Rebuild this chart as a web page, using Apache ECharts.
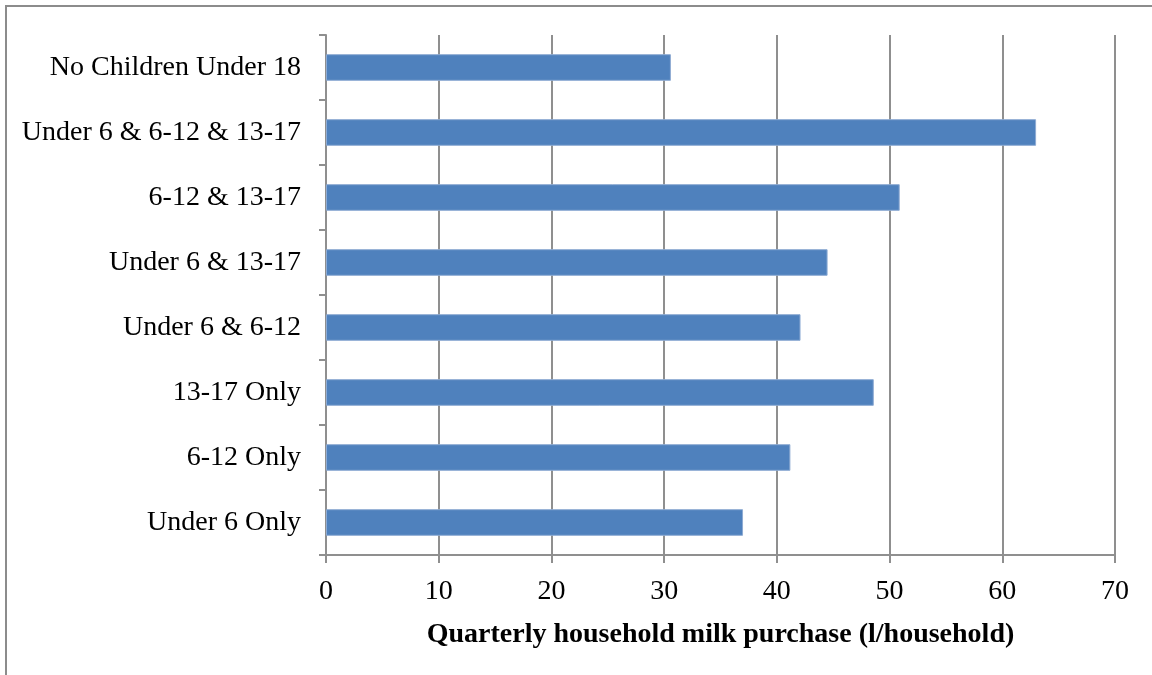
<!DOCTYPE html>
<html>
<head>
<meta charset="utf-8">
<script src="https://cdn.jsdelivr.net/npm/echarts@6/dist/echarts.min.js"></script>
<style>
  html, body { margin: 0; padding: 0; background: #fff; }
  #chart { width: 1152px; height: 675px; }
</style>
</head>
<body>
<div id="chart"></div>
<script>
// Household groups, listed top to bottom
const categories = [
  'No Children Under 18',
  'Under 6 & 6-12 & 13-17',
  '6-12 & 13-17',
  'Under 6 & 13-17',
  'Under 6 & 6-12',
  '13-17 Only',
  '6-12 Only',
  'Under 6 Only'
];
// Quarterly milk purchase, litres per household
const milkPurchase = [30.6, 63.0, 50.9, 44.5, 42.1, 48.6, 41.2, 37.0];
const axisTitle = 'Quarterly household milk purchase (l/household)';

const serif = '"Liberation Serif", "Times New Roman", serif';
const lineGray = '#8f8f8f';

const chart = echarts.init(document.getElementById('chart'), null, { renderer: 'canvas' });
chart.setOption({
  animation: false,
  backgroundColor: '#fff',
  graphic: [{
    type: 'rect',
    shape: { x: 6, y: 6, width: 1200, height: 700 },
    style: { fill: 'none', stroke: '#8c8c8c', lineWidth: 2 },
    silent: true
  }],
  grid: { left: 326, right: 37, top: 35, bottom: 120, containLabel: false },
  xAxis: {
    type: 'value',
    min: 0,
    max: 70,
    interval: 10,
    name: axisTitle,
    nameLocation: 'middle',
    nameGap: 66,
    nameTextStyle: { fontFamily: serif, fontSize: 28, fontWeight: 'bold', color: '#000' },
    axisLine: { show: true, lineStyle: { color: lineGray, width: 2 } },
    axisTick: { show: true, length: 8, lineStyle: { color: lineGray, width: 2 } },
    axisLabel: { fontFamily: serif, fontSize: 28, color: '#000', margin: 23 },
    splitLine: { show: true, lineStyle: { color: lineGray, width: 2 } }
  },
  yAxis: {
    type: 'category',
    data: categories,
    inverse: true,
    axisLine: { show: true, lineStyle: { color: lineGray, width: 2 } },
    axisTick: { show: true, length: 7, lineStyle: { color: lineGray, width: 2 } },
    axisLabel: { fontFamily: serif, fontSize: 28, color: '#000', margin: 25 },
    splitLine: { show: false }
  },
  series: [{
    type: 'bar',
    data: milkPurchase,
    barWidth: '41%',
    itemStyle: { color: '#4F81BD', borderColor: '#8eabd3', borderWidth: 1 }
  }]
});
</script>
</body>
</html>
